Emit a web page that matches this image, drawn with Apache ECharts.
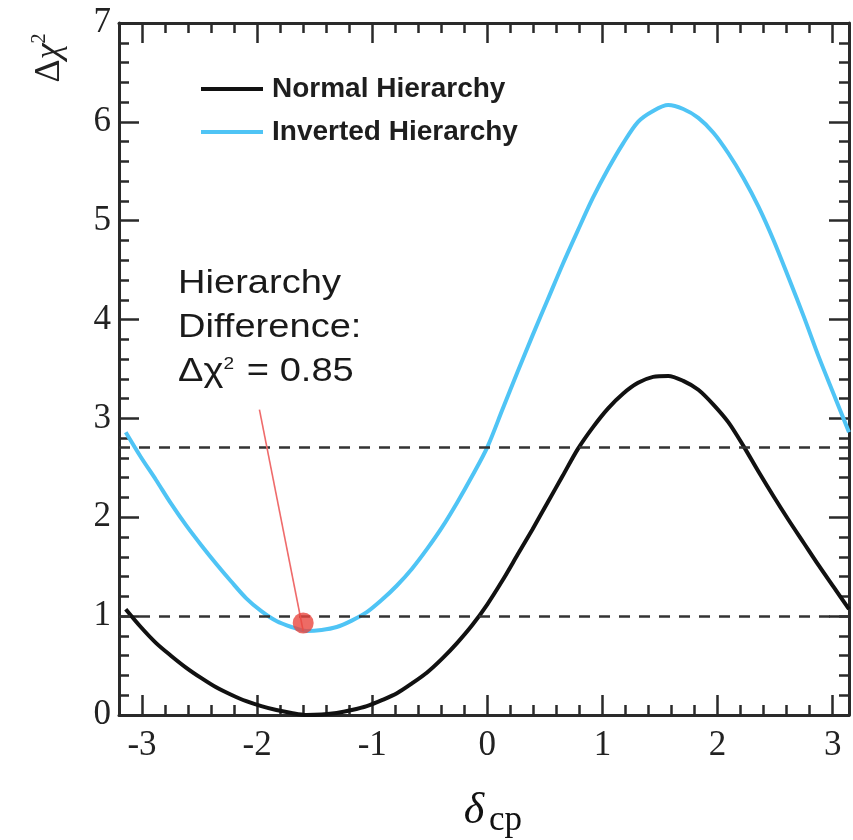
<!DOCTYPE html>
<html>
<head>
<meta charset="utf-8">
<script src="https://cdn.jsdelivr.net/npm/echarts@6/dist/echarts.min.js"></script>
<style>
  html, body { margin: 0; padding: 0; background: #ffffff; }
  #chart { width: 853px; height: 840px; }
</style>
</head>
<body>
<div id="chart"></div>
<script>
// δCP scan points (radians, steps of π/24) shared by both hierarchy curves
const deltaCP = [-3.1416, -3.0107, -2.8798, -2.7489, -2.6180, -2.4871, -2.3562, -2.2253,
                 -2.0944, -1.9635, -1.8326, -1.7017, -1.5708, -1.4399, -1.3090, -1.1781,
                 -1.0472, -0.9163, -0.7854, -0.6545, -0.5236, -0.3927, -0.2618, -0.1309,
                 0.0, 0.1309, 0.2618, 0.3927, 0.5236, 0.6545, 0.7854, 0.9163,
                 1.0472, 1.1781, 1.3090, 1.4399, 1.5708, 1.7017, 1.8326, 1.9635,
                 2.0944, 2.2253, 2.3562, 2.4871, 2.6180, 2.7489, 2.8798, 3.0107, 3.1416];

// Δχ² for the normal hierarchy
const normalHierarchy = [1.07, 0.89, 0.73, 0.60, 0.48, 0.375, 0.28, 0.205,
                         0.14, 0.09, 0.05, 0.02, 0.00, 0.005, 0.02, 0.05,
                         0.09, 0.15, 0.22, 0.32, 0.43, 0.57, 0.73, 0.91,
                         1.12, 1.36, 1.62, 1.88, 2.15, 2.42, 2.69, 2.91,
                         3.10, 3.25, 3.36, 3.42, 3.43, 3.38, 3.29, 3.14,
                         2.96, 2.72, 2.46, 2.21, 1.97, 1.74, 1.51, 1.29, 1.07];

// Δχ² for the inverted hierarchy
const invertedHierarchy = [2.86, 2.61, 2.38, 2.14, 1.92, 1.72, 1.53, 1.35,
                           1.18, 1.05, 0.95, 0.89, 0.85, 0.86, 0.89, 0.955,
                           1.04, 1.165, 1.31, 1.48, 1.68, 1.90, 2.15, 2.42,
                           2.71, 3.09, 3.47, 3.84, 4.20, 4.56, 4.90, 5.23,
                           5.52, 5.78, 6.00, 6.11, 6.17, 6.13, 6.04, 5.89,
                           5.68, 5.43, 5.14, 4.80, 4.42, 4.03, 3.62, 3.24, 2.86];

// Reference Δχ² levels (68% and 90% CL, one d.o.f.)
const confidenceLevels = [1, 2.71];

// Best-fit point of the inverted hierarchy and the callout anchor
const hierarchyDifference = 0.85;
const ihMinimum = [-1.6, hierarchyDifference];
const calloutAnchor = [-1.98, 3.09];

// Axis ticks
const xTickLabels = [-3, -2, -1, 0, 1, 2, 3];
const xMinorTicks = [-3.2, -3.0, -2.8, -2.6, -2.4, -2.2, -2.0, -1.8, -1.6, -1.4, -1.2, -1.0, -0.8, -0.6,
                     -0.4, -0.2, 0.0, 0.2, 0.4, 0.6, 0.8, 1.0, 1.2, 1.4, 1.6, 1.8, 2.0, 2.2, 2.4, 2.6,
                     2.8, 3.0];
const yTickLabels = [0, 1, 2, 3, 4, 5, 6, 7];

const X_MIN = -3.2, X_MAX = Math.PI;
const AXIS_COLOR = '#2a2a2a';
const SERIF = "'Liberation Serif', 'DejaVu Serif', serif";
const SANS = "'Liberation Sans', Arial, sans-serif";

const gridRect = { left: 119, right: 4, top: 23, bottom: 125, containLabel: false };

function pairs(xs, ys) { return xs.map((x, i) => [x, ys[i]]); }

function majorXAxis(gridIndex, position, withLabels) {
  return {
    type: 'value', gridIndex, position, min: X_MIN, max: X_MAX,
    axisLine: { show: true, onZero: false, lineStyle: { color: AXIS_COLOR, width: 3 } },
    axisTick: { show: true, inside: true, length: 20, customValues: xTickLabels,
                lineStyle: { color: AXIS_COLOR, width: 2.5 } },
    axisLabel: { show: withLabels, customValues: xTickLabels, margin: 13, color: '#222',
                 fontFamily: SERIF, fontSize: 35 },
    splitLine: { show: false }
  };
}

function minorXAxis(gridIndex, position) {
  return {
    type: 'value', gridIndex, position, min: X_MIN, max: X_MAX,
    axisLine: { show: false },
    axisTick: { show: true, inside: true, length: 10, customValues: xMinorTicks,
                lineStyle: { color: AXIS_COLOR, width: 2.5 } },
    axisLabel: { show: false },
    splitLine: { show: false }
  };
}

function yAxisDef(gridIndex, position, withLabels, visible) {
  return {
    type: 'value', gridIndex, position, show: visible, min: 0, max: 7, interval: 1,
    axisLine: { show: true, onZero: false, lineStyle: { color: AXIS_COLOR, width: 3 } },
    axisTick: { show: true, inside: true, length: 20, lineStyle: { color: AXIS_COLOR, width: 2.5 } },
    minorTick: { show: true, splitNumber: 5, length: 10, lineStyle: { color: AXIS_COLOR, width: 2.5 } },
    axisLabel: { show: withLabels, margin: 8, color: '#222', fontFamily: SERIF, fontSize: 35,
                 formatter: v => (yTickLabels.indexOf(v) >= 0 ? String(v) : '') },
    splitLine: { show: false },
    minorSplitLine: { show: false }
  };
}

const chart = echarts.init(document.getElementById('chart'), null, { renderer: 'canvas' });

chart.setOption({
  animation: false,
  backgroundColor: '#ffffff',
  grid: [Object.assign({}, gridRect), Object.assign({}, gridRect)],
  xAxis: [
    majorXAxis(0, 'bottom', true),
    majorXAxis(0, 'top', false),
    minorXAxis(1, 'bottom'),
    minorXAxis(1, 'top')
  ],
  yAxis: [
    yAxisDef(0, 'left', true, true),
    yAxisDef(0, 'right', false, true),
    yAxisDef(1, 'left', false, false)
  ],
  legend: {
    data: ['Normal Hierarchy', 'Inverted Hierarchy'],
    orient: 'vertical',
    left: 196, top: 69,
    icon: 'rect', itemWidth: 62, itemHeight: 4, itemGap: 13,
    textStyle: { fontFamily: SANS, fontWeight: 'bold', fontSize: 28, color: '#1e1e1e',
                 lineHeight: 30, padding: [0, 0, 0, 4] },
    selectedMode: false
  },
  series: [
    {
      name: 'Normal Hierarchy', type: 'line', xAxisIndex: 0, yAxisIndex: 0,
      data: pairs(deltaCP, normalHierarchy), smooth: 0.3, showSymbol: false,
      color: '#111111', lineStyle: { color: '#111111', width: 4 }, z: 3,
      markLine: {
        silent: true, symbol: 'none', label: { show: false },
        lineStyle: { color: '#333333', width: 2.5, type: [11, 9] },
        data: confidenceLevels.map(v => ({ yAxis: v }))
      }
    },
    {
      name: 'Inverted Hierarchy', type: 'line', xAxisIndex: 0, yAxisIndex: 0,
      data: pairs(deltaCP, invertedHierarchy), smooth: 0.3, showSymbol: false,
      color: '#4fc4f5', lineStyle: { color: '#4fc4f5', width: 4 }, z: 3
    },
    {
      name: 'IH minimum', type: 'scatter', xAxisIndex: 0, yAxisIndex: 0,
      data: [ihMinimum], symbolSize: 21, symbolOffset: [0, -8],
      itemStyle: { color: '#e8463e' }, z: 6, silent: true,
      markLine: {
        silent: true, symbol: 'none', label: { show: false },
        lineStyle: { color: '#ef6b6b', width: 1.6, type: 'solid' },
        data: [[{ coord: calloutAnchor }, { coord: ihMinimum }]]
      }
    }
  ],
  graphic: [
    {
      type: 'text', x: 70, y: 58, rotation: Math.PI / 2,
      style: {
        text: '{d|Δ}{c|χ}{s|2}',
        align: 'center', verticalAlign: 'bottom',
        rich: {
          d: { fontFamily: SERIF, fontSize: 36, fill: '#222' },
          c: { fontFamily: SERIF, fontStyle: 'italic', fontSize: 36, fill: '#222' },
          s: { fontFamily: SERIF, fontSize: 20, fill: '#222', verticalAlign: 'top', lineHeight: 40 }
        }
      }
    },
    {
      type: 'text', x: 474, y: 811,
      style: { text: 'δ', fontFamily: SERIF, fontStyle: 'italic', fontSize: 44, fill: '#111',
               align: 'center', verticalAlign: 'middle' }
    },
    {
      type: 'text', x: 489, y: 821,
      style: { text: 'cp', fontFamily: SERIF, fontSize: 35, fill: '#111',
               align: 'left', verticalAlign: 'middle' }
    },
    {
      type: 'text', x: 178, y: 262, scaleX: 1.12,
      style: {
        text: '{t|Hierarchy}\n{t|Difference:}\n{t|Δχ}{s|2}{t| = ' + hierarchyDifference + '}',
        align: 'left', verticalAlign: 'top',
        rich: {
          t: { fontFamily: SANS, fontSize: 34, lineHeight: 44, fill: '#1a1a1a' },
          s: { fontFamily: SANS, fontSize: 17, lineHeight: 44, fill: '#1a1a1a', verticalAlign: 'top', padding: [6, 2, 0, 0] }
        }
      }
    }
  ]
});
</script>
</body>
</html>
